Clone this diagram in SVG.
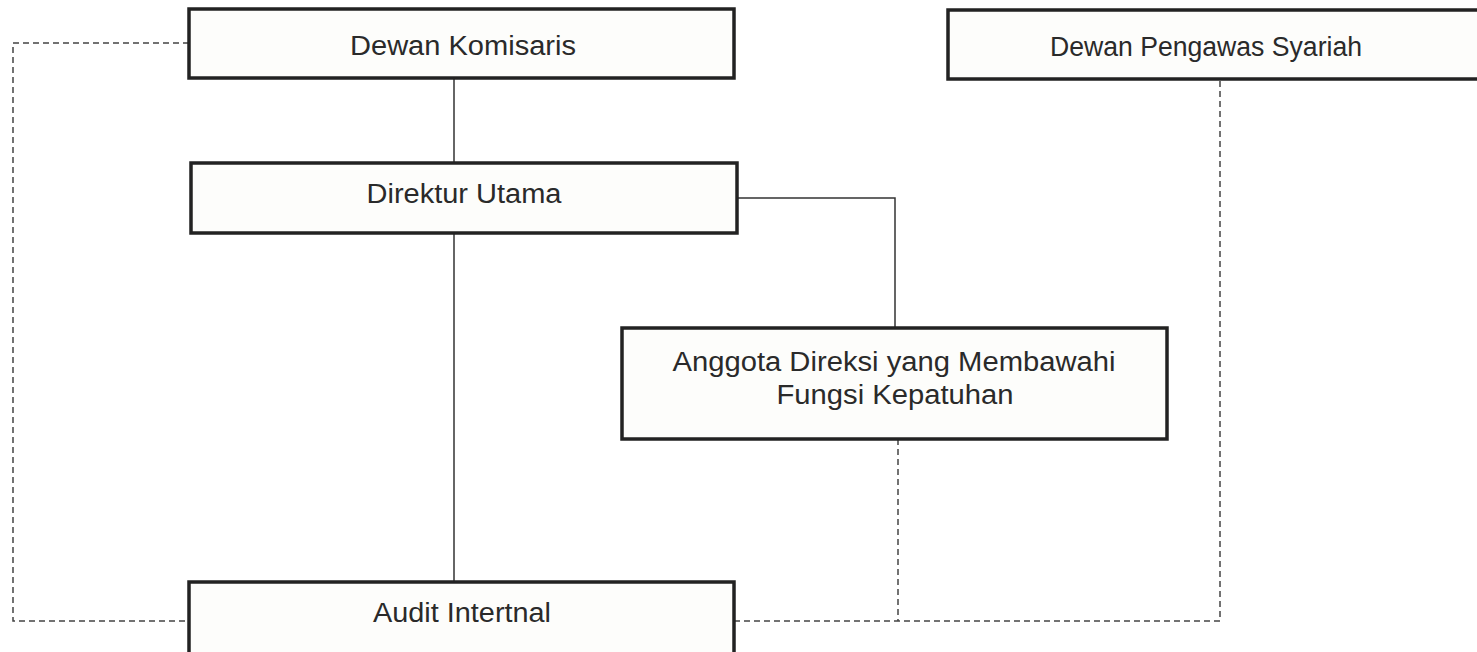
<svg xmlns="http://www.w3.org/2000/svg" width="1477" height="652" viewBox="0 0 1477 652">
<style>
.box{fill:#fdfdfb;stroke:#222;stroke-width:3.5}
.t{font-family:"Liberation Sans",Arial,sans-serif;font-size:27px;fill:#2a2a2a;text-anchor:middle}
.solid{fill:none;stroke:#333;stroke-width:1.5}
.dash{fill:none;stroke:#444;stroke-width:1.5;stroke-dasharray:6,4}
</style>
<rect width="1477" height="652" fill="#fff"/>
<g id="connectors">
<line class="solid" x1="454" y1="78" x2="454" y2="163"/>
<line class="solid" x1="454" y1="233" x2="454" y2="582"/>
<polyline class="solid" points="737,198 895,198 895,328"/>
<polyline class="dash" points="189,43 13,43 13,621 189,621"/>
<polyline class="dash" points="734,621 1220,621 1220,79"/>
<line class="dash" x1="898" y1="439" x2="898" y2="621"/>
</g>
<g id="dewan-komisaris">
<rect class="box" x="189" y="9" width="545" height="69"/>
<text class="t" x="463" y="55" textLength="226" lengthAdjust="spacingAndGlyphs">Dewan Komisaris</text>
</g>
<g id="dewan-pengawas-syariah">
<rect class="box" x="948" y="10" width="540" height="69"/>
<text class="t" x="1206" y="56" textLength="312" lengthAdjust="spacingAndGlyphs">Dewan Pengawas Syariah</text>
</g>
<g id="direktur-utama">
<rect class="box" x="191" y="163" width="546" height="70"/>
<text class="t" x="464" y="203" textLength="195" lengthAdjust="spacingAndGlyphs">Direktur Utama</text>
</g>
<g id="anggota-direksi">
<rect class="box" x="622" y="328" width="545" height="111"/>
<text class="t" x="894" y="371" textLength="443" lengthAdjust="spacingAndGlyphs">Anggota Direksi yang Membawahi</text>
<text class="t" x="895" y="404" textLength="237" lengthAdjust="spacingAndGlyphs">Fungsi Kepatuhan</text>
</g>
<g id="audit-internal">
<rect class="box" x="189" y="582" width="545" height="80"/>
<text class="t" x="462" y="622" textLength="178" lengthAdjust="spacingAndGlyphs">Audit Intertnal</text>
</g>
</svg>
